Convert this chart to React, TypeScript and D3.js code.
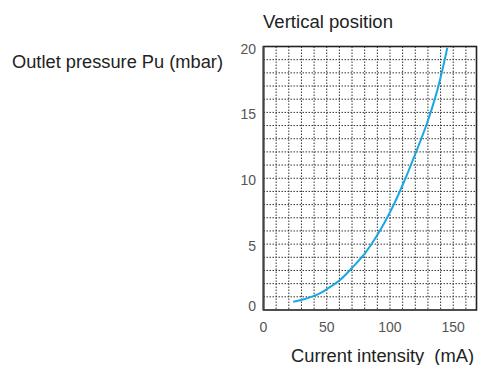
import React from "react";
import * as d3 from "d3";

const currentMA = [23.5, 32.8, 43.3, 51.2, 60.5, 69.7, 80.2, 90.7, 101.5, 110.5, 119.8, 129, 136.9, 142.1, 145.3];
const pressureMbar = [0.63, 0.84, 1.2, 1.65, 2.28, 3.17, 4.3, 5.8, 7.7, 9.6, 11.8, 14.1, 16.5, 18.5, 19.9];
const xTicks = [0, 50, 100, 150];
const yTicks = [0, 5, 10, 15, 20];
const xGrid = d3.range(10, 170, 10);
const yGrid = d3.range(1, 20, 1);

const W = 478, H = 365;
const L = 263.5, R = 476.5, T = 46.5, B = 310;

export default function App() {
  const x = d3.scaleLinear().domain([0, 168.4]).range([L, R]);
  const y = d3.scaleLinear().domain([0, 20]).range([B, T]);
  const line = d3.line<number>()
    .x((_, i) => x(currentMA[i]))
    .y((d) => y(d))
    .curve(d3.curveCatmullRom);
  const font = "'Liberation Sans', Arial, sans-serif";
  return (
    <svg width={W} height={H} style={{ position: "absolute", left: 0, top: 0 }} fontFamily={font}>
      <rect x={0} y={0} width={W} height={H} fill="#fff" />
      {xGrid.map((g) => (
        <line key={"x" + g} x1={x(g)} x2={x(g)} y1={T} y2={B} stroke="#333" strokeWidth={1} strokeDasharray="1.5,1.5" />
      ))}
      {yGrid.map((g) => (
        <line key={"y" + g} x1={L} x2={R} y1={y(g)} y2={y(g)} stroke="#333" strokeWidth={1} strokeDasharray="1.5,1.5" />
      ))}
      <rect x={L} y={T} width={R - L} height={B - T} fill="none" stroke="#222" strokeWidth={1.6} />
      <line x1={L} x2={L} y1={T} y2={B} stroke="#444" strokeWidth={2} />
      <path d={line(pressureMbar) || ""} fill="none" stroke="#1aa7e4" strokeWidth={2} />
      {yTicks.map((t) => (
        <text key={"yt" + t} x={256} y={y(t) + (t === 0 ? 1 : 7)} textAnchor="end" fontSize={14} fill="#555">{t}</text>
      ))}
      {xTicks.map((t) => (
        <text key={"xt" + t} x={x(t)} y={332} textAnchor="middle" fontSize={14} fill="#555">{t}</text>
      ))}
      <text x={263} y={28} fontSize={17.5} fill="#222" textLength={130} lengthAdjust="spacingAndGlyphs">Vertical position</text>
      <text x={12} y={68} fontSize={17.5} fill="#222" textLength={211} lengthAdjust="spacingAndGlyphs">Outlet pressure Pu (mbar)</text>
      <text x={291} y={362} fontSize={17.5} fill="#222" style={{ whiteSpace: "pre" }} textLength={183} lengthAdjust="spacingAndGlyphs">{"Current intensity  (mA)"}</text>
    </svg>
  );
}
